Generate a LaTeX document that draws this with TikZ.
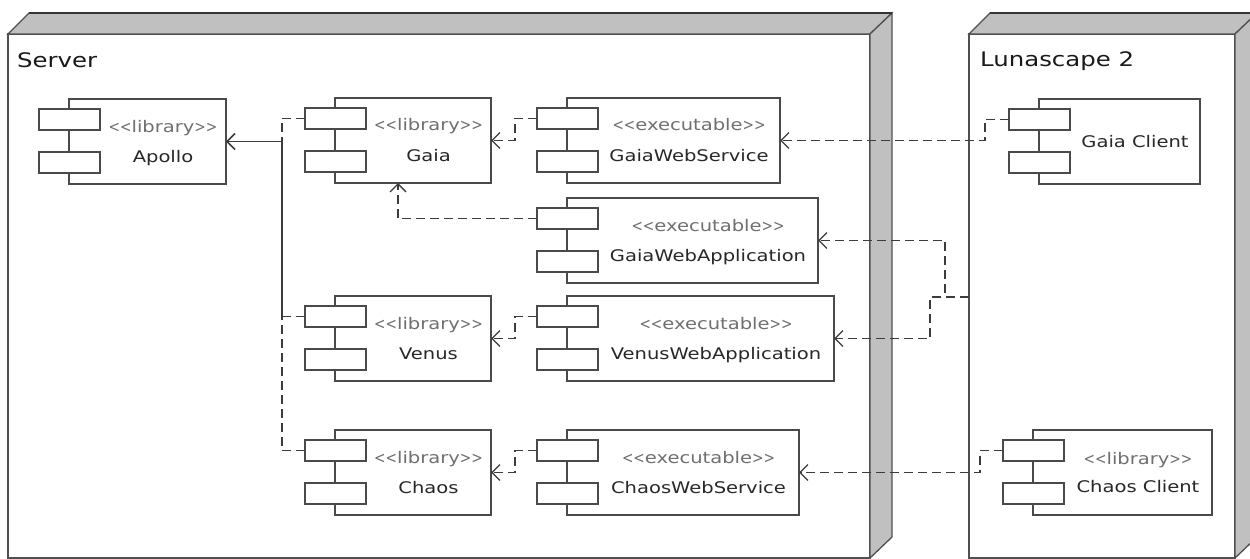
\documentclass[tikz,border=0pt]{standalone}
\usepackage{fontspec}
\setmainfont{DejaVu Sans}[FakeStretch=1.22, Ligatures=TeXOff]
\usetikzlibrary{arrows.meta,calc}
\definecolor{compC}{HTML}{4A4A4A}
\definecolor{depC}{HTML}{3C3C3C}
\definecolor{sideC}{HTML}{C0C0C0}
\definecolor{edgeC}{HTML}{505050}
\definecolor{stC}{HTML}{707070}
\definecolor{nmC}{HTML}{282828}
\newcommand\stlt{\scalebox{0.7}[1]{<<}}
\newcommand\stgt{\scalebox{0.7}[1]{>>}}
\newcommand\umlcomp[4]{%
  \node[compbox, minimum width=#4pt, anchor=north west] (#1) at (#2,#3) {};
  \node[portbox, anchor=north west] (#1P1) at ($(#1.north west)+(-30,10)$) {};
  \node[portbox, anchor=north west] (#1P2) at ($(#1.north west)+(-30,53)$) {};
  \coordinate (#1TC) at ($(#1P1.east |- #1.north)!0.5!(#1.north east)$);
}
\begin{document}
\begin{tikzpicture}[x=1pt,y=-1pt,
  nodefront/.style={draw=edgeC, line width=1.3pt, fill=white, inner sep=0pt, outer sep=0pt},
  nodeside/.style={draw=edgeC, line width=1.3pt, fill=sideC},
  backedge/.style={draw=black!80, line width=2pt},
  compbox/.style={draw=compC, line width=1.3pt, fill=white, inner sep=0pt, outer sep=0pt, minimum height=85pt},
  portbox/.style={draw=compC, line width=1.3pt, fill=white, inner sep=0pt, outer sep=0pt, minimum width=61pt, minimum height=21pt},
  dep/.style={draw=depC, line width=1.3pt, dash pattern=on 9pt off 5pt, -{Straight Barb[length=8pt,width=16pt]}},
  stereotxt/.style={font=\fontsize{16}{16}\selectfont, text=stC, anchor=base, inner sep=0pt},
  nametxt/.style={font=\fontsize{16}{16}\selectfont, text=nmC, anchor=base, inner sep=0pt},
  titletxt/.style={font=\fontsize{20}{20}\selectfont, text=black!90, anchor=base west, inner sep=0pt}]
\useasboundingbox[fill=white] (0,0) rectangle (1250,559);

% Server node
\node[nodefront, minimum width=862pt, minimum height=524pt, anchor=north west] (server) at (8,34) {};
\filldraw[nodeside] (server.north west) -- ++(21,-21) -- ++(863,0) -- (server.north east) -- cycle;
\filldraw[nodeside] (server.north east) -- ++(22,-21) -- ++(0,524) -- (server.south east) -- cycle;
\draw[backedge] ($(server.north west)+(21,-21)$) -- ++(863,0);
\node[titletxt] (serverT) at (17,68) {Server};

% Lunascape node
\node[nodefront, minimum width=266pt, minimum height=524pt, anchor=north west] (luna) at (969,34) {};
\filldraw[nodeside] (luna.north west) -- ++(21,-21) -- ++(267,0) -- (luna.north east) -- cycle;
\filldraw[nodeside] (luna.north east) -- ++(22,-21) -- ++(0,524) -- (luna.south east) -- cycle;
\draw[backedge] ($(luna.north west)+(21,-21)$) -- ++(267,0);
\node[titletxt] (lunaT) at (980,67) {Lunascape 2};

% Components
\umlcomp{apollo}{69}{99}{157}
\umlcomp{gaia}{335}{98}{156}
\umlcomp{gws}{567}{98}{213}
\umlcomp{gwa}{567}{198}{251}
\umlcomp{venus}{335}{296}{156}
\umlcomp{vwa}{567}{296}{267}
\umlcomp{chaos}{335}{430}{156}
\umlcomp{cws}{567}{430}{232}
\umlcomp{gc}{1039}{99}{161}
\umlcomp{cc}{1033}{430}{179}

\node[stereotxt] (apolloS) at ($(apolloTC)+(0,33)$) {\stlt library\stgt};
\node[nametxt] (apolloN) at ($(apolloTC)+(0,63)$) {Apollo};
\node[stereotxt] (gaiaS) at ($(gaiaTC)+(0,33)$) {\stlt library\stgt};
\node[nametxt] (gaiaN) at ($(gaiaTC)+(0,63)$) {Gaia};
\node[stereotxt] (gwsS) at ($(gwsTC)+(0,33)$) {\stlt executable\stgt};
\node[nametxt] (gwsN) at ($(gwsTC)+(0,63)$) {GaiaWebService};
\node[stereotxt] (gwaS) at ($(gwaTC)+(0,33)$) {\stlt executable\stgt};
\node[nametxt] (gwaN) at ($(gwaTC)+(0,63)$) {GaiaWebApplication};
\node[stereotxt] (venusS) at ($(venusTC)+(0,33)$) {\stlt library\stgt};
\node[nametxt] (venusN) at ($(venusTC)+(0,63)$) {Venus};
\node[stereotxt] (vwaS) at ($(vwaTC)+(0,33)$) {\stlt executable\stgt};
\node[nametxt] (vwaN) at ($(vwaTC)+(0,63)$) {VenusWebApplication};
\node[stereotxt] (chaosS) at ($(chaosTC)+(0,33)$) {\stlt library\stgt};
\node[nametxt] (chaosN) at ($(chaosTC)+(0,63)$) {Chaos};
\node[stereotxt] (cwsS) at ($(cwsTC)+(0,33)$) {\stlt executable\stgt};
\node[nametxt] (cwsN) at ($(cwsTC)+(0,63)$) {ChaosWebService};
\node[nametxt] (gcN) at ($(gcTC)+(0,48)$) {Gaia Client};
\node[stereotxt] (ccS) at ($(ccTC)+(0,34)$) {\stlt library\stgt};
\node[nametxt] (ccN) at ($(ccTC)+(0,62)$) {Chaos Client};

% Connectors
\coordinate (busA) at (282,0);
\coordinate (busB) at (515,0);
\coordinate (busC) at (985,0);
\coordinate (busD) at (980,0);
\draw[dep] (gaiaP1.west) -- (gaiaP1.west -| busA) |- (apollo.east);
\draw[dep] (venusP1.west) -- (venusP1.west -| busA) |- (apollo.east);
\draw[dep] (chaosP1.west) -- (chaosP1.west -| busA) |- (apollo.east);
\draw[dep] (gwsP1.west) -- (gwsP1.west -| busB) |- (gaia.east);
\draw[dep] (vwaP1.west) -- (vwaP1.west -| busB) |- (venus.east);
\draw[dep] (cwsP1.west) -- (cwsP1.west -| busB) |- (chaos.east);
\draw[dep] (gwaP1.west) -| ($(gaia.south)+(-15,0)$);
\draw[dep] (gcP1.west) -- (gcP1.west -| busC) |- (gws.east);
\draw[dep] (ccP1.west) -- (ccP1.west -| busD) |- (cws.east);
\coordinate (lj) at ($(luna.north west)+(0,263)$);
\draw[dep] (lj) -- ++(-24,0) |- (gwa.east);
\draw[dep] (lj) -- ++(-39,0) |- (vwa.east);
\end{tikzpicture}
\end{document}
